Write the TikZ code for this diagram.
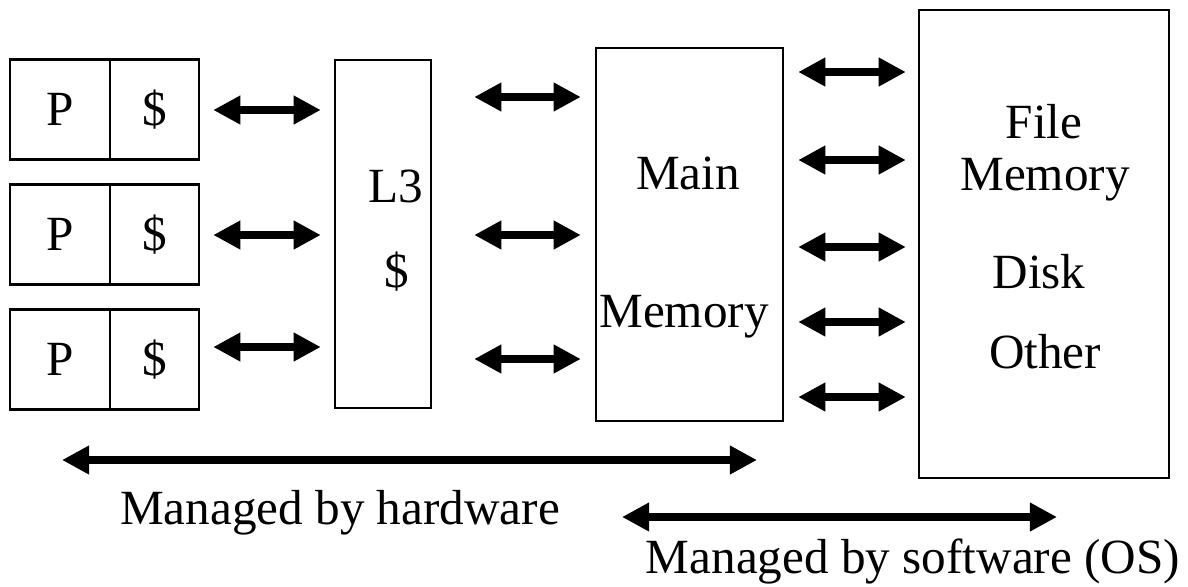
\documentclass[tikz,border=0pt]{standalone}
\usepackage{fontspec}
\setmainfont{Liberation Serif}
\usetikzlibrary{arrows.meta}

\tikzset{
    mh box/.style={draw=black, line width=1.4pt, inner sep=0pt,
                   font=\fontsize{28}{34}\selectfont},
    mh text/.style={inner sep=0pt, anchor=base,
                    font=\fontsize{28}{34}\selectfont},
    mh arrow/.style={{Triangle[length=15.5pt,width=15.5pt]}-{Triangle[length=15.5pt,width=15.5pt]},
                     line width=4.5pt, black},
}

\begin{document}
\begin{tikzpicture}[x=0.02cm, y=-0.02cm]
    \useasboundingbox (0,0) rectangle (1188,586);
    % processors and their caches
    \foreach \i/\yy in {1/109.5, 2/234.5, 3/359.5} {
        \node[mh box, minimum width=2cm, minimum height=2cm] (p\i) at (60,\yy) {P};
        \node[mh box, minimum width=1.78cm, minimum height=2cm] (c\i) at (154.5,\yy) {\$};
    }
    % shared L3, main memory, file memory
    \node[mh box, minimum width=1.92cm, minimum height=6.96cm] (l3) at (383,234) {};
    \node[mh text] (l3a) at (396,202) {L3};
    \node[mh text] (l3b) at (397,287) {\$};
    \node[mh box, minimum width=3.74cm, minimum height=7.46cm] (main) at (689.5,234.5) {};
    \node[mh text] (maina) at (688,189) {Main};
    \node[mh text] (mainb) at (684,327) {Memory};
    \node[mh box, minimum width=5cm, minimum height=9.36cm] (file) at (1044,244) {};
    \node[mh text] (filea) at (1044,138) {File};
    \node[mh text] (fileb) at (1045,190) {Memory};
    \node[mh text] (filec) at (1039,288) {Disk};
    \node[mh text] (filed) at (1045,368) {Other};

    % links between the levels
    \foreach \i/\ay in {1/110, 2/235, 3/347}
        \draw[mh arrow, shorten <=0.26cm, shorten >=0.26cm]
            (c\i.east |- 0,\ay) -- (l3.west |- 0,\ay);
    \foreach \ay in {97, 235, 359}
        \draw[mh arrow, shorten <=0.84cm, shorten >=0.28cm]
            (l3.east |- 0,\ay) -- (main.west |- 0,\ay);
    \foreach \ay in {72, 160, 247, 322, 397}
        \draw[mh arrow, shorten <=0.28cm, shorten >=0.24cm]
            (main.east |- 0,\ay) -- (file.west |- 0,\ay);

    % who manages what
    \coordinate (hwl) at (62,460);
    \coordinate (hwr) at (757,460);
    \coordinate (swl) at (622,517);
    \coordinate (swr) at (1057,517);
    \draw[mh arrow] (hwl) -- (hwr);
    \draw[mh arrow] (swl) -- (swr);
    \node[mh text] (hw) at (340,524) {Managed by hardware};
    \node[mh text] (sw) at (913,573) {Managed by software (OS)};
\end{tikzpicture}
\end{document}
